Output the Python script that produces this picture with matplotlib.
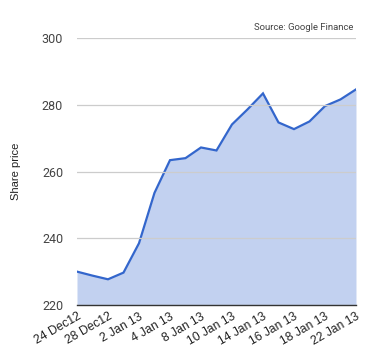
import numpy as np
import matplotlib.pyplot as plt

# Share price, trading days 24 Dec 2012 - 22 Jan 2013
dates = ["24 Dec12", "27 Dec12", "28 Dec12", "31 Dec12", "2 Jan 13", "3 Jan 13",
         "4 Jan 13", "7 Jan 13", "8 Jan 13", "9 Jan 13", "10 Jan 13", "11 Jan 13",
         "14 Jan 13", "15 Jan 13", "16 Jan 13", "17 Jan 13", "18 Jan 13",
         "21 Jan 13", "22 Jan 13"]
prices = [230.0, 228.8, 227.7, 229.7, 238.5, 253.6, 263.4, 264.0, 267.2, 266.3,
          274.1, 278.6, 283.4, 274.7, 272.7, 275.0, 279.6, 281.6, 284.6]
yticks = [220, 240, 260, 280, 300]

x = np.arange(len(dates))

fig = plt.figure(figsize=(3.8, 3.6), dpi=100)
ax = fig.add_axes([0.2026, 0.1528, 0.7342, 0.7416])

ax.fill_between(x, prices, 220, color="#c2d1f0", lw=0)
ax.plot(x, prices, color="#3366cc", lw=1.6, solid_joinstyle="miter")

ax.set_xlim(0, len(dates) - 1)
ax.set_ylim(220, 300)
ax.set_yticks(yticks)
ax.yaxis.grid(True, color="#cccccc", lw=0.9)
ax.set_axisbelow(False)
for s in ["top", "right", "left"]:
    ax.spines[s].set_visible(False)
ax.spines["bottom"].set_color("#333333")
ax.spines["bottom"].set_linewidth(1.0)
ax.spines["bottom"].set_zorder(5)

ax.set_xticks(x[::2])
ax.set_xticklabels(dates[::2], rotation=30, ha="right", va="top",
                   rotation_mode="anchor", fontsize=8.7, color="#222222",
                   family="Liberation Sans")
ax.tick_params(axis="x", length=0, pad=4)
ax.tick_params(axis="y", length=0, pad=10, labelsize=9, labelcolor="#444444")
for t in ax.get_yticklabels():
    t.set_family("Roboto")

ax.set_ylabel("Share price", fontsize=8, color="#222222", labelpad=15,
              family="Liberation Sans")
ax.text(0.99, 1.04, "Source: Google Finance", transform=ax.transAxes,
        ha="right", va="center", fontsize=6.8, color="#444444", family="Roboto")

fig.savefig("out.png", dpi=100)
